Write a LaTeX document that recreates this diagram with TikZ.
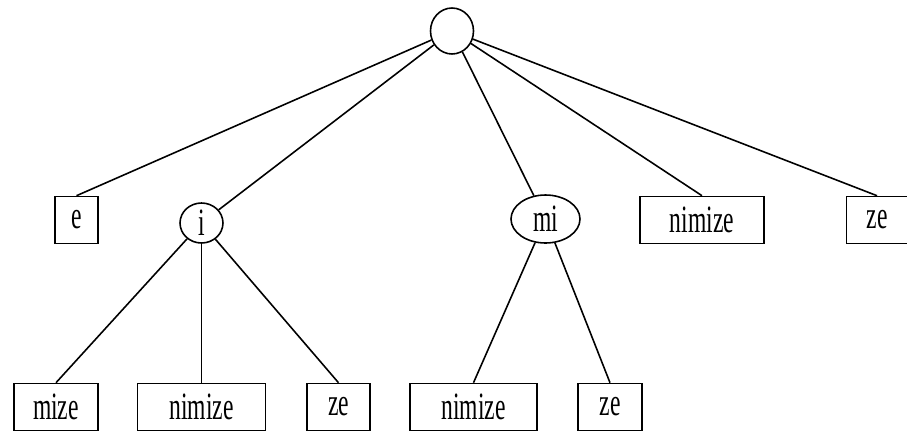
\documentclass[tikz,border=0pt]{standalone}
\usepackage{fontspec}
\setmainfont[FakeStretch=0.61]{Liberation Serif}
\usepackage{tikz}
\usetikzlibrary{positioning,shapes.geometric}

\begin{document}
\begin{tikzpicture}[on grid, line width=0.9pt,
  font=\fontsize{22}{26}\selectfont,
  wordbox/.style={draw, rectangle, minimum height=0.94cm, inner sep=2pt},
  knot/.style={draw, ellipse, inner sep=0pt}]
  \useasboundingbox (-9.04,0.62) rectangle (9.10,-8.06);
  % Define nodes
  \node (root) [knot, minimum width=0.86cm, minimum height=0.92cm] {};
  \node (e) [wordbox, minimum width=0.86cm, below left=3.78cm and 7.51cm of root] {e};
  \node (i) [knot, minimum width=0.86cm, minimum height=0.80cm, below left=3.84cm and 5.01cm of root] {i};
  \node (mi) [knot, minimum width=1.38cm, minimum height=0.96cm, below right=3.76cm and 1.87cm of root] {mi};
  \node (nimizeA) [wordbox, minimum width=2.48cm, below right=3.78cm and 5.0cm of root] {nimize};
  \node (zeA) [wordbox, minimum width=1.22cm, below right=3.78cm and 8.5cm of root] {ze};

  \node (mize) [wordbox, minimum width=1.68cm, below left=3.68cm and 2.91cm of i] {mize};
  \node (nimizeB) [wordbox, minimum width=2.56cm, below=3.68cm of i] {nimize};
  \node (zeB) [wordbox, minimum width=1.26cm, below right=3.68cm and 2.74cm of i] {ze};

  \node (nimizeC) [wordbox, minimum width=2.54cm, below left=3.76cm and 1.44cm of mi] {nimize};
  \node (zeC) [wordbox, minimum width=1.28cm, below right=3.76cm and 1.29cm of mi] {ze};

  % Draw edges
  \draw (root) -- (e.north);
  \draw (root) -- (i);
  \draw (root) -- (mi);
  \draw (root) -- (nimizeA.north);
  \draw (root) -- (zeA.north);
  \draw (i) -- (mize.north);
  \draw (i) -- (nimizeB.north);
  \draw (i) -- (zeB.north);
  \draw (mi) -- (nimizeC.north);
  \draw (mi) -- (zeC.north);
\end{tikzpicture}
\end{document}
